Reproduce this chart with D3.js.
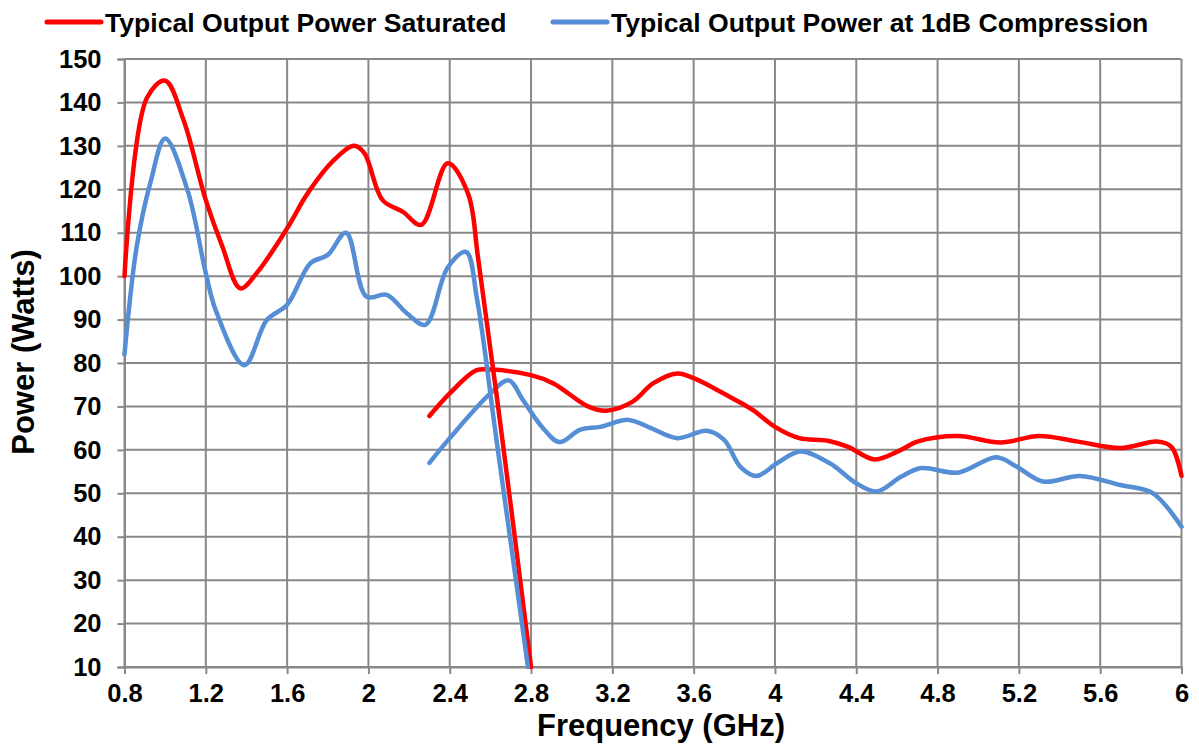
<!DOCTYPE html>
<html><head><meta charset="utf-8">
<script src="https://cdn.jsdelivr.net/npm/d3@7"></script>
<style>
html,body{margin:0;padding:0;background:#fff;}
svg{display:block;font-family:"Liberation Sans",Arial,sans-serif;font-weight:bold;}
</style></head>
<body>
<svg id="chart" width="1199" height="744"></svg>
<script>
// ---- data ----
const seriesNames = ["Typical Output Power Saturated", "Typical Output Power at 1dB Compression"];
const xTicks = [0.8, 1.2, 1.6, 2, 2.4, 2.8, 3.2, 3.6, 4, 4.4, 4.8, 5.2, 5.6, 6];
const yTicks = [10, 20, 30, 40, 50, 60, 70, 80, 90, 100, 110, 120, 130, 140, 150];

// Saturated, low band
const freqSatLow = [0.8, 0.91, 1.0, 1.09, 1.2, 1.28, 1.37, 1.45, 1.6, 1.7, 1.83, 1.93, 1.98, 2.07, 2.17, 2.26, 2.39, 2.49, 2.54, 2.66, 2.8];
const powSatLow  = [100, 141, 145, 136, 117.5, 107, 97.2, 100.7, 111, 119, 126.7, 130, 128.3, 117.5, 114.8, 111.8, 126, 119, 104, 62, 10];
// 1dB, low band
const freqP1Low = [0.8, 0.86, 0.93, 1.0, 1.11, 1.2, 1.25, 1.39, 1.5, 1.6, 1.715, 1.8, 1.89, 1.99, 2.09, 2.19, 2.28, 2.39, 2.48, 2.535, 2.63, 2.785];
const powP1Low  = [82, 106.8, 122, 131.7, 119.8, 100.7, 92, 79.5, 89.9, 93.4, 103, 104.9, 110, 95.3, 95.7, 91.4, 88.8, 102, 105.6, 94.5, 62.3, 10];
// Saturated, high band
const freqSatHigh = [2.3, 2.4, 2.53, 2.6, 2.8, 2.91, 3.08, 3.17, 3.3, 3.4, 3.52, 3.6, 3.7, 3.79, 3.89, 4.0, 4.12, 4.26, 4.36, 4.49, 4.62, 4.7, 4.9, 5.11, 5.3, 5.49, 5.7, 5.88, 5.95, 6.0];
const powSatHigh  = [67.8, 73, 78.3, 78.5, 77.2, 75.3, 70, 69, 71.1, 75.3, 77.6, 76.5, 74.2, 71.9, 69.2, 65.3, 62.7, 62.1, 60.7, 57.8, 60, 61.9, 63.2, 61.7, 63.2, 61.9, 60.4, 61.9, 60.7, 54];
// 1dB, high band
const freqP1High = [2.3, 2.4, 2.6, 2.69, 2.76, 2.85, 2.94, 3.04, 3.14, 3.28, 3.39, 3.52, 3.665, 3.75, 3.83, 3.91, 4.01, 4.125, 4.27, 4.4, 4.5, 4.62, 4.72, 4.9, 5.09, 5.19, 5.32, 5.5, 5.7, 5.86, 6.0];
const powP1High  = [57, 62.7, 73, 76, 71.5, 65.5, 61.8, 64.6, 65.3, 66.9, 65, 62.7, 64.4, 62.3, 56.1, 54, 56.9, 59.6, 56.9, 52.3, 50.4, 53.8, 55.8, 54.75, 58.3, 56.1, 52.7, 54, 51.9, 50, 42.3];

const colorSat = "#ff0000";
const colorP1 = "#558ed5";

// ---- chart ----
const svg = d3.select("#chart");
const plotL = 124.5, plotR = 1181.5, plotT = 59, plotB = 667;
const x = d3.scaleLinear().domain([0.8, 6]).range([plotL, plotR]);
const y = d3.scaleLinear().domain([10, 150]).range([plotB, plotT]);
const gridColor = "#888888";

// gridlines
svg.append("g").selectAll("line").data(xTicks).join("line")
  .attr("x1", d => x(d)).attr("x2", d => x(d)).attr("y1", plotT).attr("y2", plotB)
  .attr("stroke", gridColor).attr("stroke-width", 2);
svg.append("g").selectAll("line").data(yTicks).join("line")
  .attr("x1", plotL).attr("x2", plotR).attr("y1", d => y(d)).attr("y2", d => y(d))
  .attr("stroke", gridColor).attr("stroke-width", 2);

// axes
const xAxis = d3.axisBottom(x).tickValues(xTicks).tickFormat(d => d3.format("")(d)).tickSize(7).tickPadding(10);
const yAxis = d3.axisLeft(y).tickValues(yTicks).tickSize(7).tickPadding(16);
const gx = svg.append("g").attr("transform", `translate(0,${plotB})`).call(xAxis);
const gy = svg.append("g").attr("transform", `translate(${plotL},0)`).call(yAxis);
[gx, gy].forEach(g => {
  g.select(".domain").attr("stroke", gridColor).attr("stroke-width", 2);
  g.selectAll(".tick line").attr("stroke", gridColor).attr("stroke-width", 2);
  g.selectAll(".tick text").attr("fill", "#000").style("font-size", "25.5px")
    .style("font-family", '"Liberation Sans",Arial,sans-serif').style("font-weight", "bold");
});
gx.selectAll(".tick text").attr("dy", "0.71em");

// lines
const line = d3.line().x(d => x(d[0])).y(d => y(d[1])).curve(d3.curveCatmullRom.alpha(0.5));
const zip = (a, b) => a.map((v, i) => [v, b[i]]);
const order = [
  [zip(freqSatHigh, powSatHigh), colorSat],
  [zip(freqP1High, powP1High), colorP1],
  [zip(freqSatLow, powSatLow), colorSat],
  [zip(freqP1Low, powP1Low), colorP1]
];
order.forEach(([data, c]) => {
  svg.append("path").datum(data).attr("d", line)
    .attr("fill", "none").attr("stroke", c).attr("stroke-width", 4.5)
    .attr("stroke-linejoin", "round").attr("stroke-linecap", "round");
});

// axis titles
svg.append("text").attr("x", 661).attr("y", 736).attr("text-anchor", "middle")
  .style("font-size", "31px").text("Frequency (GHz)");
svg.append("text").attr("transform", "translate(34,352) rotate(-90)").attr("text-anchor", "middle")
  .style("font-size", "31px").text("Power (Watts)");

// legend
const legend = [
  {name: seriesNames[0], color: colorSat, x1: 47, x2: 101, tx: 105},
  {name: seriesNames[1], color: colorP1, x1: 553, x2: 607, tx: 611}
];
legend.forEach(l => {
  svg.append("line").attr("x1", l.x1).attr("x2", l.x2).attr("y1", 22).attr("y2", 22)
    .attr("stroke", l.color).attr("stroke-width", 5).attr("stroke-linecap", "round");
  svg.append("text").attr("x", l.tx).attr("y", 32).style("font-size", "26.6px").text(l.name);
});
</script>
</body></html>
